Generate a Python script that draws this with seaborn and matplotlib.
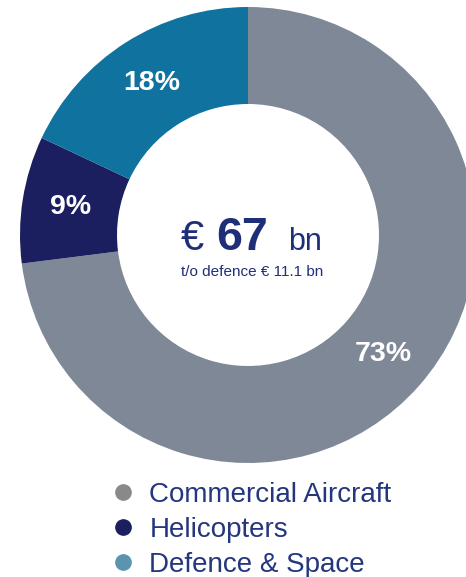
import matplotlib
matplotlib.use("Agg")
import matplotlib.pyplot as plt
import seaborn as sns
from matplotlib.lines import Line2D

sns.set_theme(style="white")
plt.rcParams['font.family'] = ['Liberation Sans', 'DejaVu Sans']

# Data
categories = ["Commercial Aircraft", "Helicopters", "Defence & Space"]
shares = [73, 9, 18]
slice_colors = ["#7F8896", "#1B1F5F", "#10729E"]
legend_colors = ["#898989", "#1B1F5F", "#5B94AE"]
currency = "€"
total_label = "67"
unit = "bn"
subtitle = "t/o defence € 11.1 bn"

W, H = 466, 577
fig = plt.figure(figsize=(W / 100, H / 100), dpi=100)
ax = fig.add_axes([0, 0, 1, 1])

cx, cy = 248, H - 235
R_out, R_in = 228, 131

ax.pie(
    shares, colors=slice_colors, startangle=90, counterclock=False,
    center=(cx, cy), radius=R_out, autopct=lambda p: f"{p:.0f}%",
    pctdistance=0.79, wedgeprops=dict(width=R_out - R_in, linewidth=0),
    textprops=dict(color="white", fontsize=20.5, fontweight="bold"),
    frame=True,
)
ax.set_xlim(0, W)
ax.set_ylim(0, H)
ax.set_aspect("equal")
ax.axis("off")

txt_col = "#1F2E78"
ax.text(181, H - 250, currency, ha="left", va="baseline", fontsize=30, color=txt_col)
ax.text(216, H - 250, total_label, ha="left", va="baseline", fontsize=33.5,
        fontweight="bold", color=txt_col)
ax.text(288, H - 250, unit, ha="left", va="baseline", fontsize=22, color=txt_col)
ax.text(252, H - 272, subtitle, ha="center", va="center", fontsize=11, color=txt_col)

handles = [Line2D([0], [0], marker="o", linestyle="", markersize=11,
                  markerfacecolor=c, markeredgecolor=c) for c in legend_colors]
leg = ax.legend(handles, categories, loc="upper left", bbox_to_anchor=(109 / W, 1 - 482 / H),
                bbox_transform=fig.transFigure, frameon=False, fontsize=20,
                labelspacing=0.32, handletextpad=0.45, handlelength=1.0,
                borderpad=0, borderaxespad=0)
for t in leg.get_texts():
    t.set_color("#24367D")

fig.savefig("out.png", dpi=100)
